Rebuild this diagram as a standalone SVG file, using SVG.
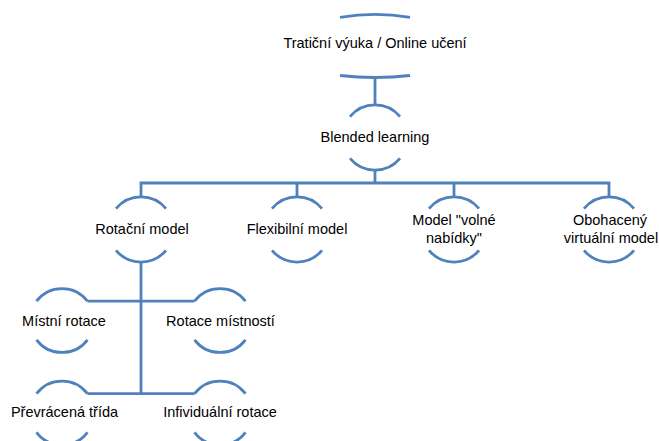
<svg xmlns="http://www.w3.org/2000/svg" width="659" height="441" viewBox="0 0 659 441">
<style>
.arc{fill:none;stroke:#4F81BD;stroke-width:2.8;stroke-linecap:butt}
.con{fill:none;stroke:#4F81BD;stroke-width:2.8}
text{font-family:"Liberation Sans",Arial,sans-serif;font-size:14.5px;fill:#000;text-anchor:middle}
</style>
<rect width="659" height="441" fill="#fff"/>
<g id="connectors">
<path class="con" d="M375,77.5 V105"/>
<path class="con" d="M375,170 V183"/>
<path class="con" d="M141,197 V183 H609 V197"/>
<path class="con" d="M297,183 V197"/>
<path class="con" d="M454,183 V197"/>
<path class="con" d="M141,262 V393.7"/>
<path class="con" d="M87.5,301.2 H194.5"/>
<path class="con" d="M87.5,393.7 H194.5"/>
</g>
<g id="n-top">
<path class="arc" d="M340,17.3 Q375,11.3 410,17.3"/>
<path class="arc" d="M340,75.5 Q375,79.5 410,75.5"/>
<text x="375" y="47.5">Tratiční výuka / Online učení</text>
</g>
<g id="n-blended">
<path class="arc" d="M350,116.7 A32.5,32.5 0 0 1 400,116.7"/>
<path class="arc" d="M350,158.3 A32.5,32.5 0 0 0 400,158.3"/>
<text x="375" y="142.3">Blended learning</text>
</g>
<g id="n-rotacni">
<path class="arc" d="M116,208.7 A32.5,32.5 0 0 1 166,208.7"/>
<path class="arc" d="M116,250.3 A32.5,32.5 0 0 0 166,250.3"/>
<text x="142" y="234">Rotační model</text>
</g>
<g id="n-flexibilni">
<path class="arc" d="M272,208.7 A32.5,32.5 0 0 1 322,208.7"/>
<path class="arc" d="M272,250.3 A32.5,32.5 0 0 0 322,250.3"/>
<text x="297" y="234">Flexibilní model</text>
</g>
<g id="n-volne">
<path class="arc" d="M429,208.7 A32.5,32.5 0 0 1 479,208.7"/>
<path class="arc" d="M429,250.3 A32.5,32.5 0 0 0 479,250.3"/>
<text x="454" y="225">Model "volné</text>
<text x="454" y="243">nabídky"</text>
</g>
<g id="n-obohaceny">
<path class="arc" d="M584,208.7 A32.5,32.5 0 0 1 634,208.7"/>
<path class="arc" d="M584,250.3 A32.5,32.5 0 0 0 634,250.3"/>
<text x="610" y="225">Obohacený</text>
<text x="611" y="243">virtuální model</text>
</g>
<g id="n-mistni">
<path class="arc" d="M36.5,301.2 A32,32 0 0 1 87.5,301.2"/>
<path class="arc" d="M36.5,339.8 A32,32 0 0 0 87.5,339.8"/>
<text x="64" y="326">Místní rotace</text>
</g>
<g id="n-mistnosti">
<path class="arc" d="M194.5,301.2 A32,32 0 0 1 245.5,301.2"/>
<path class="arc" d="M194.5,339.8 A32,32 0 0 0 245.5,339.8"/>
<text x="220.5" y="326">Rotace místností</text>
</g>
<g id="n-prevracena">
<path class="arc" d="M36.5,393.7 A32,32 0 0 1 87.5,393.7"/>
<path class="arc" d="M36.5,432.3 A32,32 0 0 0 87.5,432.3"/>
<text x="64.5" y="417">Převrácená třída</text>
</g>
<g id="n-individualni">
<path class="arc" d="M194.5,393.7 A32,32 0 0 1 245.5,393.7"/>
<path class="arc" d="M194.5,432.3 A32,32 0 0 0 245.5,432.3"/>
<text x="220" y="417">Infividuální rotace</text>
</g>
</svg>
